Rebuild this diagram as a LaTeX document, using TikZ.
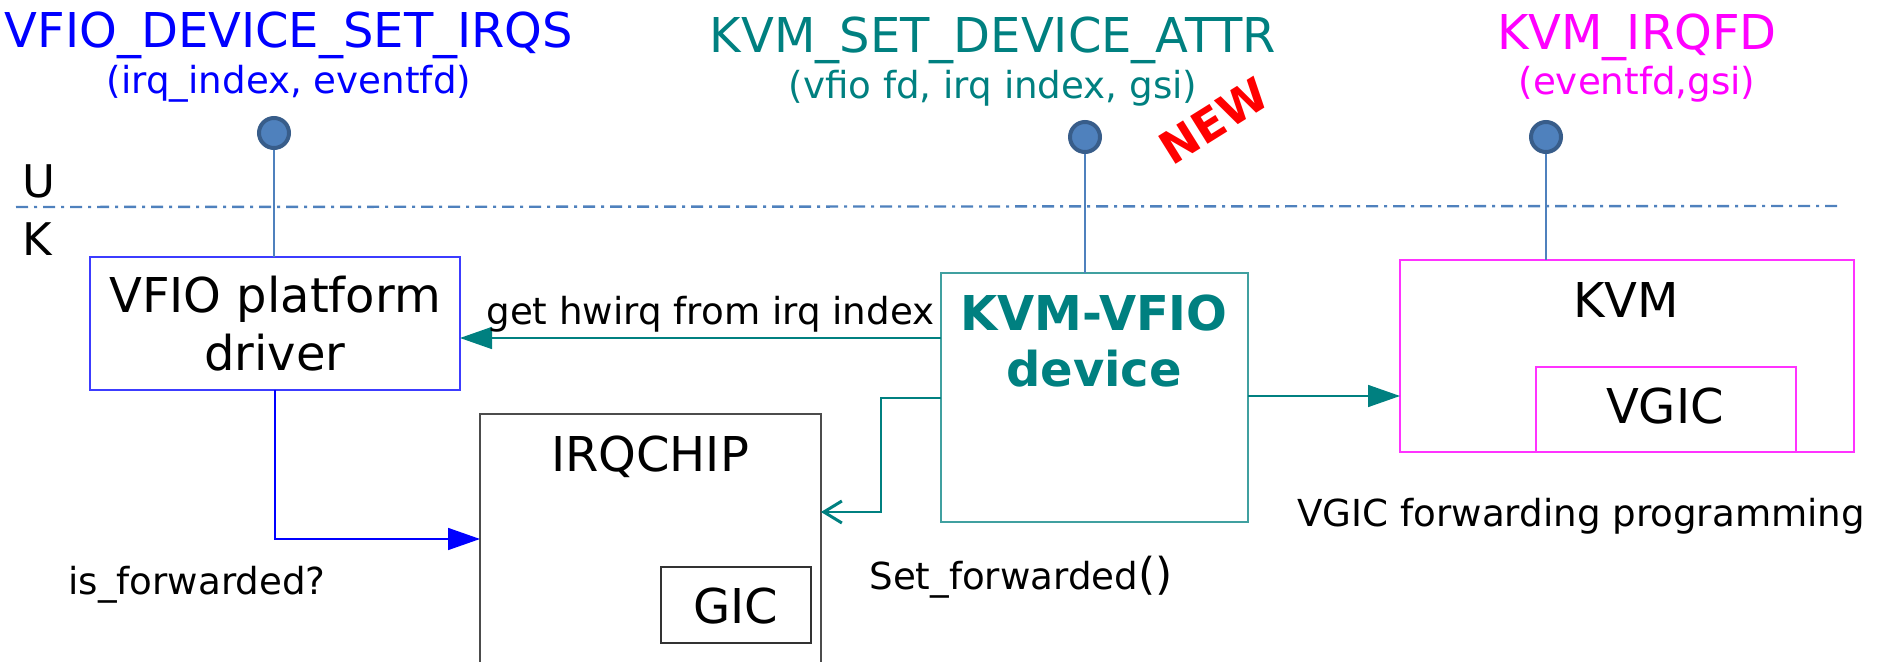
\documentclass[tikz,border=0pt]{standalone}
\usepackage{fontspec}
\setmainfont{DejaVu Sans}
\usetikzlibrary{calc,arrows.meta}
\definecolor{vfioblue}{HTML}{0000FF}
\definecolor{boxblue}{HTML}{3C3CFF}
\definecolor{kvmteal}{HTML}{008080}
\definecolor{kvmmag}{HTML}{FF00FF}
\definecolor{pinblue}{HTML}{4F81BD}
\definecolor{pindark}{HTML}{385D8A}

\begin{document}
\begin{tikzpicture}[x=0.5pt,y=-0.5pt,
    txt/.style={inner sep=0pt,anchor=base},
    big/.style={txt,font=\fontsize{24}{29}\selectfont},
    small/.style={txt,font=\fontsize{18.6}{22}\selectfont},
    blk/.style={draw,inner sep=0pt,outer sep=0pt,line width=0.75pt},
    pin/.style={circle,draw=pindark,fill=pinblue,line width=2pt,minimum size=15pt,inner sep=0pt},
    stem/.style={draw=pinblue,line width=1pt},
    tealarr/.style={draw=kvmteal,line width=0.8pt,-{Triangle[length=16pt,width=11pt]}}]
  \useasboundingbox (0,0) rectangle (1880,662);
  % ioctls seen from user space
  \node[big,text=vfioblue] (setirqs) at (289,48) {VFIO\_DEVICE\_SET\_IRQS};
  \node[small,text=vfioblue] (setirqsarg) at (289,94) {(irq\_index, eventfd)};
  \node[big,text=kvmteal] (devattr) at (993,53) {KVM\_SET\_DEVICE\_ATTR};
  \node[small,text=kvmteal] (devattrarg) at (993,99) {(vfio fd, irq index, gsi)};
  \node[big,text=kvmmag] (irqfd) at (1637,50) {KVM\_IRQFD};
  \node[small,text=kvmmag] (irqfdarg) at (1637,95) {(eventfd,gsi)};
  \node[txt,text=red,rotate=32,font=\fontsize{22.5}{27}\selectfont\bfseries,anchor=center] (new) at (1214,121) {NEW};
  \node[pin] (p1) at (274,133) {};
  \node[pin] (p2) at (1085,137) {};
  \node[pin] (p3) at (1546,137) {};
  % user / kernel split
  \coordinate (ul) at (16,207);
  \coordinate (ur) at (1840,206);
  \draw[pinblue,line width=1.2pt,dash pattern=on 6pt off 3pt on 1.5pt off 3pt] (ul) -- (ur);
  \node[txt,anchor=base west,font=\fontsize{22.5}{27}\selectfont] (u) at (22,198) {U};
  \node[txt,anchor=base west,font=\fontsize{22.5}{27}\selectfont] (k) at (22,256) {K};
  % blocks
  \node[blk,draw=boxblue,minimum width=185pt,minimum height=66.5pt] (vfio) at (275,323.5) {};
  \node[big] at (275,313) {VFIO platform};
  \node[big] at (275,371) {driver};
  \node[blk,draw=kvmteal!75,minimum width=153.5pt,minimum height=124.5pt] (kvmvfio) at (1094.5,397.5) {};
  \node[big,text=kvmteal,font=\fontsize{24}{29}\selectfont\bfseries] at (1094,331) {KVM-VFIO};
  \node[big,text=kvmteal,font=\fontsize{24}{29}\selectfont\bfseries] at (1094,387) {device};
  \node[blk,draw=kvmmag!80,minimum width=227pt,minimum height=96pt] (kvm) at (1627,356) {};
  \node[big] at (1626,318) {KVM};
  \node[blk,draw=kvmmag!80,minimum width=130pt,minimum height=42.5pt] (vgic) at (1666,409.5) {};
  \node[big] at (1665,424) {VGIC};
  \node[blk,draw=black!70,minimum width=170.5pt,minimum height=125pt] (irqchip) at (650.5,539) {};
  \node[big] at (650,472) {IRQCHIP};
  \node[blk,draw=black!80,minimum width=75pt,minimum height=38pt] (gic) at (736,605) {};
  \node[big] at (736,623) {GIC};
  % stems
  \draw[stem] (p1) -- (p1 |- vfio.north);
  \draw[stem] (p2) -- (p2 |- kvmvfio.north);
  \draw[stem] (p3) -- (p3 |- kvm.north);
  % connectors
  \draw[line width=0.8pt,-{Triangle[length=16pt,width=11pt]},vfioblue] (vfio.south) |- (irqchip.west);
  \draw[tealarr] (kvmvfio.west |- 0,338) -- (vfio.east |- 0,338);
  \draw[tealarr] (kvmvfio.east |- 0,396) -- (kvm.west |- 0,396);
  \coordinate (bend) at (881,398);
  \draw[kvmteal,line width=1pt,-{Straight Barb[length=9pt,width=11pt,line width=1.5pt]}] (kvmvfio.west |- bend) -- (bend) -- (bend |- 0,512) -- (irqchip.east |- 0,512);
  % labels on the connectors
  \node[small,anchor=base west] (hwlbl) at (486,325) {get hwirq from irq index};
  \node[small,anchor=base west] (islbl) at (68,595) {is\_forwarded?};
  \node[small,anchor=base west] (setlbl) at (869,589) {Set\_forwarded{\fontsize{22}{26}\selectfont()}};
  \node[small,anchor=base west] (proglbl) at (1297,527) {VGIC forwarding programming};
\end{tikzpicture}
\end{document}
